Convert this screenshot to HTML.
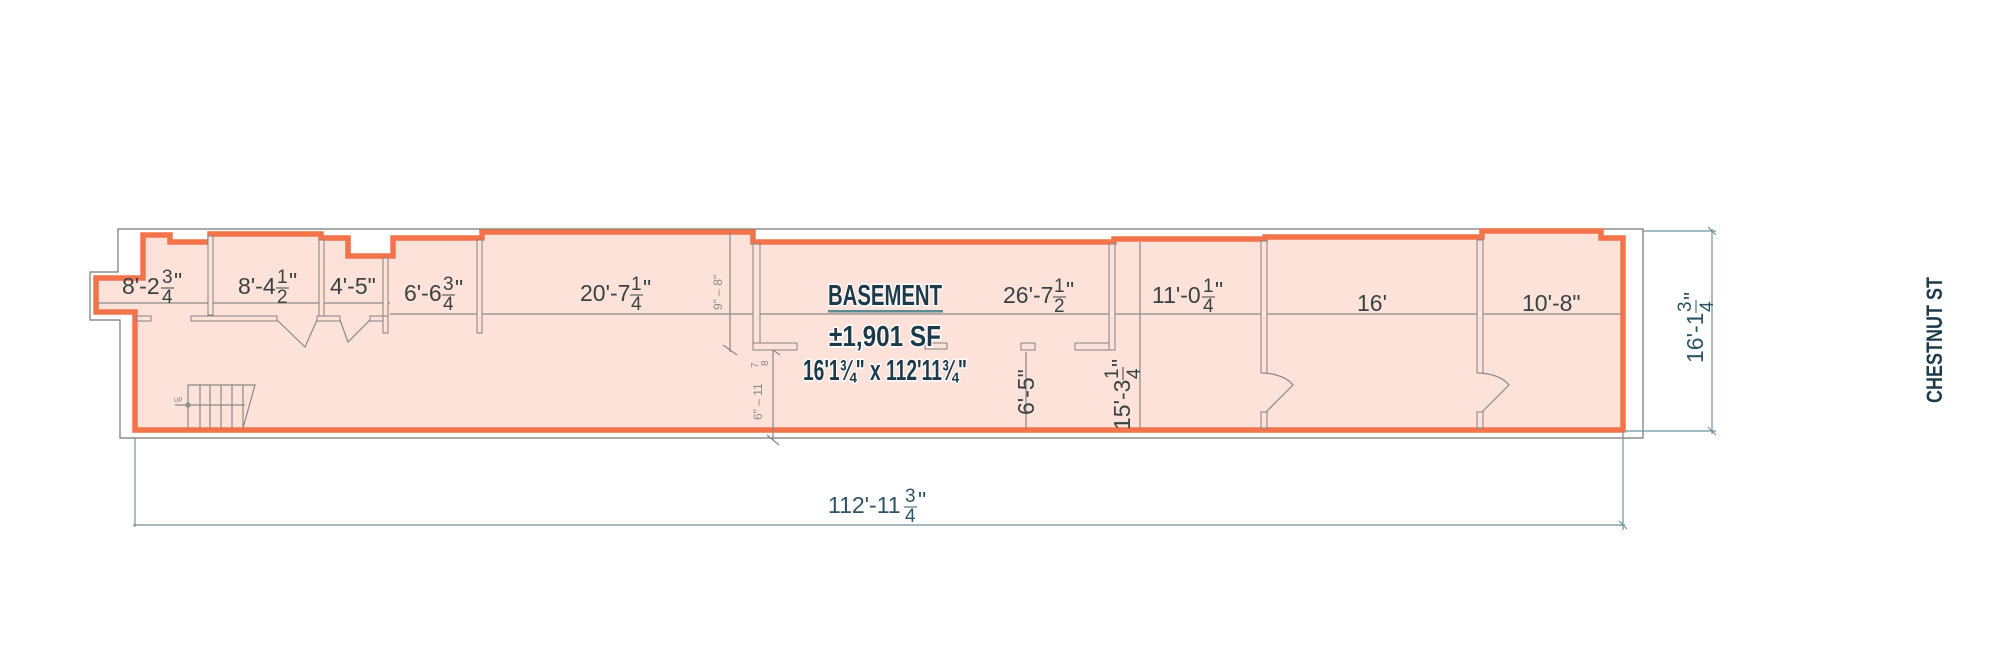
<!DOCTYPE html>
<html><head><meta charset="utf-8"><style>
html,body{margin:0;padding:0;background:#fff;}
svg{display:block;}
.d{font-family:"Liberation Sans",sans-serif;font-size:23px;fill:#3a4242;}
.f{font-family:"Liberation Sans",sans-serif;font-size:19px;fill:#3a4242;}
.s{font-family:"Liberation Sans",sans-serif;font-size:12px;fill:#8a8a8a;}
.b{font-family:"Liberation Sans",sans-serif;font-weight:bold;fill:#1d3a4a;stroke:#fff;stroke-width:3;paint-order:stroke;}
.w{fill:#fbe3dc;stroke:#8a8080;stroke-width:1;}
.bl{font-family:"Liberation Sans",sans-serif;font-size:23px;fill:#2d5566;}
.bf{font-family:"Liberation Sans",sans-serif;font-size:19px;fill:#2d5566;}
</style></head><body>
<svg width="2000" height="671" viewBox="0 0 2000 671" xmlns="http://www.w3.org/2000/svg">
<path d="M118,229 H1643 V438 H120 V320 H90 V272 H118 Z" fill="none" stroke="#777" stroke-width="1.2"/>
<path d="M96,278 H143 V235 H170 V242 H210 V234 H321 V238 H348 V256 H393 V238 H482 V232 H753 V242 H1114 V239 H1265 V237 H1482 V231 H1601 V238 H1623 V430 H135 V312 H96 Z" fill="#fde2da" stroke="#f3734a" stroke-width="5.5" stroke-linejoin="miter"/>

<g stroke="#888" stroke-width="1.2" fill="none">
<line x1="98" y1="303" x2="390" y2="303"/>
<line x1="390" y1="314" x2="1622" y2="314"/>
<line x1="730" y1="232" x2="730" y2="352"/>
<line x1="773" y1="348" x2="773" y2="440"/>
<line x1="1026" y1="352" x2="1026" y2="428"/>
<line x1="1140" y1="242" x2="1140" y2="428"/>
<line x1="723" y1="345" x2="737" y2="355"/>
<line x1="766" y1="345" x2="780" y2="355"/>
<line x1="767" y1="435" x2="779" y2="445"/>
</g>

<g>
<rect class="w" x="208" y="236" width="5" height="79"/>
<rect class="w" x="319" y="240" width="5" height="76"/>
<rect class="w" x="383" y="258" width="5" height="75"/>
<rect class="w" x="477" y="240" width="5" height="93"/>
<rect class="w" x="753" y="244" width="7" height="106"/>
<rect class="w" x="753" y="343" width="44" height="7"/>
<rect class="w" x="925" y="343" width="22" height="6"/>
<rect class="w" x="1021" y="343" width="14" height="7"/>
<rect class="w" x="1075" y="343" width="40" height="7"/>
<rect class="w" x="1109" y="244" width="6" height="106"/>
<rect class="w" x="1261" y="241" width="6" height="132"/>
<rect class="w" x="1261" y="412" width="6" height="16"/>
<rect class="w" x="1477" y="240" width="6" height="133"/>
<rect class="w" x="1477" y="412" width="6" height="16"/>
<rect class="w" x="137" y="316" width="14" height="5"/>
<rect class="w" x="191" y="316" width="86" height="5"/>
<rect class="w" x="317" y="316" width="23" height="5"/>
<rect class="w" x="370" y="316" width="17" height="5"/>
<rect class="w" x="383" y="316" width="5" height="17"/>
</g>
<g stroke="#888" stroke-width="1.2" fill="none">
<path d="M277,320 L305,347 L317,320"/>
<path d="M340,320 L348,342 L370,320"/>
<path d="M1265,373 Q1285,375 1293,385 L1266,412"/>
<path d="M1481,373 Q1501,375 1509,385 L1482,412"/>
</g>
<g stroke="#888" stroke-width="1.2" fill="none">
<path d="M188,428 V385 H255 L243,428"/>
<line x1="200" y1="385" x2="200" y2="428"/>
<line x1="210" y1="385" x2="210" y2="428"/>
<line x1="221" y1="385" x2="221" y2="428"/>
<line x1="232" y1="385" x2="232" y2="428"/>
<line x1="243" y1="385" x2="243" y2="428"/>
<line x1="175" y1="405" x2="245" y2="405"/>
<circle cx="188" cy="405" r="2"/>
</g>
<text x="174" y="402" style="font-family:'Liberation Sans',sans-serif;font-size:6px;fill:#777">UP</text>

<text class="d" x="122" y="294">8'-2</text><text class="f" x="162" y="283">3</text><line x1="161" y1="288" x2="174" y2="288" stroke="#3a4242"/><text class="f" x="162" y="303">4</text><text class="d" x="174" y="289">"</text>
<text class="d" x="238" y="294">8'-4</text><text class="f" x="277" y="283">1</text><line x1="276" y1="288" x2="289" y2="288" stroke="#3a4242"/><text class="f" x="277" y="303">2</text><text class="d" x="289" y="289">"</text>
<text class="d" x="330" y="294">4'-5"</text>
<text class="d" x="404" y="301">6'-6</text><text class="f" x="443" y="290">3</text><line x1="442" y1="295" x2="455" y2="295" stroke="#3a4242"/><text class="f" x="443" y="310">4</text><text class="d" x="455" y="296">"</text>
<text class="d" x="580" y="301">20'-7</text><text class="f" x="631" y="290">1</text><line x1="630" y1="295" x2="643" y2="295" stroke="#3a4242"/><text class="f" x="631" y="310">4</text><text class="d" x="643" y="296">"</text>
<text class="d" x="1003" y="303">26'-7</text><text class="f" x="1054" y="292">1</text><line x1="1053" y1="297" x2="1066" y2="297" stroke="#3a4242"/><text class="f" x="1054" y="312">2</text><text class="d" x="1066" y="298">"</text>
<text class="d" x="1152" y="303">11'-0</text><text class="f" x="1203" y="292">1</text><line x1="1202" y1="297" x2="1215" y2="297" stroke="#3a4242"/><text class="f" x="1203" y="312">4</text><text class="d" x="1215" y="298">"</text>
<text class="d" x="1357" y="311">16'</text>
<text class="d" x="1522" y="311">10'-8"</text>

<text class="s" transform="translate(722,310) rotate(-90)">9" – 8"</text>
<text class="s" transform="translate(762,420) rotate(-90)">6" – 11</text><text class="s" transform="translate(758,368) rotate(-90)" style="font-size:10px">7</text><text class="s" transform="translate(768,366) rotate(-90)" style="font-size:10px">8</text>

<text class="d" transform="translate(1034,415) rotate(-90)">6'-5"</text>
<text class="d" transform="translate(1130,430) rotate(-90)">15'-3</text><text class="f" transform="translate(1118,379) rotate(-90)">1</text><line x1="1123" y1="380" x2="1123" y2="367" stroke="#3a4242"/><text class="f" transform="translate(1140,379) rotate(-90)">4</text><text class="d" transform="translate(1128,367) rotate(-90)">"</text>

<text class="b" x="828" y="305" font-size="29" textLength="114" lengthAdjust="spacingAndGlyphs">BASEMENT</text>
<rect x="828" y="310" width="115" height="2.5" fill="#5e8a96"/>
<text class="b" x="829" y="346" font-size="29" textLength="112" lengthAdjust="spacingAndGlyphs">±1,901 SF</text>
<text class="b" x="803" y="380" font-size="29" textLength="164" lengthAdjust="spacingAndGlyphs">16'1¾" x 112'11¾"</text>

<g stroke="#6f929c" stroke-width="1.2" fill="none">
<line x1="1643" y1="231" x2="1716" y2="231"/>
<line x1="1625" y1="431" x2="1716" y2="431"/>
<line x1="1712" y1="229" x2="1712" y2="434"/>
<line x1="1708" y1="227" x2="1716" y2="235"/>
<line x1="1708" y1="427" x2="1716" y2="435"/>
<line x1="135" y1="438" x2="135" y2="527"/>
<line x1="1623" y1="431" x2="1623" y2="530"/>
<line x1="133" y1="525" x2="1625" y2="525"/>
<line x1="1619" y1="521" x2="1627" y2="529"/>
</g>
<text class="bl" transform="translate(1703,363) rotate(-90)">16'-1</text><text class="bf" transform="translate(1691,312) rotate(-90)">3</text><line x1="1696" y1="313" x2="1696" y2="300" stroke="#2d5566"/><text class="bf" transform="translate(1713,312) rotate(-90)">4</text><text class="bl" transform="translate(1700,300) rotate(-90)">"</text>

<text class="bl" x="828" y="513">112'-11</text><text class="bf" x="905" y="502">3</text><line x1="904" y1="507" x2="917" y2="507" stroke="#2d5566"/><text class="bf" x="905" y="522">4</text><text class="bl" x="918" y="508">"</text>

<text transform="translate(1942,403) rotate(-90)" style="font-family:'Liberation Sans',sans-serif;font-weight:bold;font-size:22px;fill:#1d3a4a" textLength="126" lengthAdjust="spacingAndGlyphs">CHESTNUT ST</text>
</svg>
</body></html>
